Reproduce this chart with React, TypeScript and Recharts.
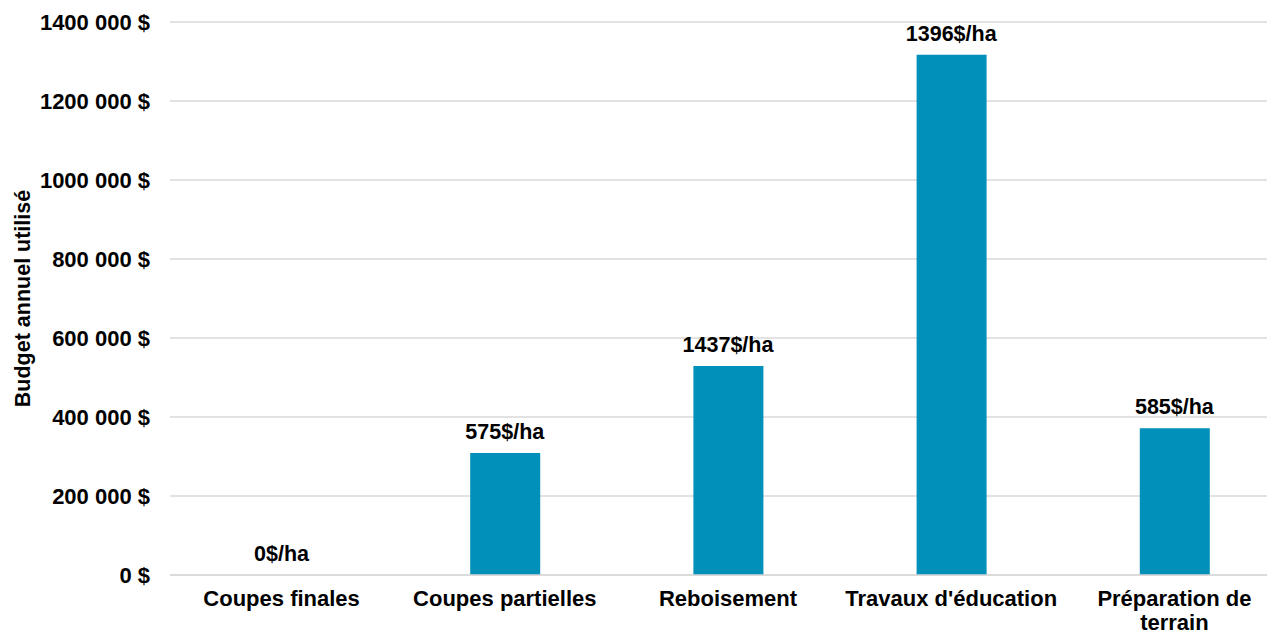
import React from "react";
import { ComposedChart, Bar, Scatter, XAxis, YAxis, CartesianGrid, Label } from "recharts";

const categories = ["Coupes finales", "Coupes partielles", "Reboisement", "Travaux d'éducation", "Préparation de terrain"];
const categoryLines = [["Coupes finales"], ["Coupes partielles"], ["Reboisement"], ["Travaux d'éducation"], ["Préparation de", "terrain"]];
const budget = [0, 308800, 529400, 1317100, 371400];
const costPerHa = [0, 575, 1437, 1396, 585];
const yTicks = [0, 200000, 400000, 600000, 800000, 1000000, 1200000, 1400000];

const data = categories.map((name, i) => ({ name, budget: budget[i], perHa: costPerHa[i] }));

const FONT = "'Liberation Sans', Arial, sans-serif";

const fmtMoney = (v: number) => {
  if (v === 0) return "0 $";
  const k = Math.floor(v / 1000);
  const rest = String(v % 1000).padStart(3, "0");
  return `${k} ${rest} $`;
};

const CategoryTick = (props: any) => {
  const { x, y, payload } = props;
  const idx = categories.indexOf(payload.value);
  const lines = idx >= 0 ? categoryLines[idx] : [payload.value];
  return (
    <text x={x} y={y} textAnchor="middle" fontSize={22} fontWeight="bold" fontFamily={FONT} fill="#000">
      {lines.map((l: string, i: number) => (
        <tspan key={i} x={x} dy={i === 0 ? 23 : 24}>
          {l}
        </tspan>
      ))}
    </text>
  );
};

const YTitle = (props: any) => {
  const { viewBox } = props;
  const cx = viewBox.x + 15;
  const cy = viewBox.y + viewBox.height / 2;
  return (
    <text
      x={cx}
      y={cy}
      transform={`rotate(-90, ${cx}, ${cy})`}
      textAnchor="middle"
      dominantBaseline="central"
      fontSize={21.5}
      fontWeight="bold"
      fontFamily={FONT}
      fill="#000"
    >
      Budget annuel utilisé
    </text>
  );
};

const ValueLabel = (props: any) => {
  const { cx, cy, payload } = props;
  return (
    <text x={cx} y={cy - 14} textAnchor="middle" fontSize={21.5} fontWeight="bold" fontFamily={FONT} fill="#000">
      {`${payload.perHa}$/ha`}
    </text>
  );
};

export default function App() {
  return (
    <div style={{ width: 1267, height: 625, overflow: "hidden" }}>
      <ComposedChart width={1285} height={625} data={data} margin={{ top: 14, right: 7, left: 0, bottom: 0 }}>
        <CartesianGrid vertical={false} stroke="#d9d9d9" strokeWidth={1.5} />
        <XAxis
          dataKey="name"
          height={58}
          axisLine={{ stroke: "#d9d9d9", strokeWidth: 1.5 }}
          tickLine={false}
          interval={0}
          tick={<CategoryTick />}
        />
        <YAxis
          width={162}
          domain={[0, 1400000]}
          ticks={yTicks}
          interval={0}
          axisLine={false}
          tickLine={false}
          tickSize={0}
          tickMargin={20}
          tickFormatter={fmtMoney}
          tick={{ fontSize: 22, fontWeight: "bold", fontFamily: FONT, fill: "#000" }}
        >
          <Label content={<YTitle />} />
        </YAxis>
        <Bar dataKey="budget" fill="#0090ba" barSize={70} isAnimationActive={false} />
        <Scatter dataKey="budget" shape={<ValueLabel />} isAnimationActive={false} />
      </ComposedChart>
    </div>
  );
}
